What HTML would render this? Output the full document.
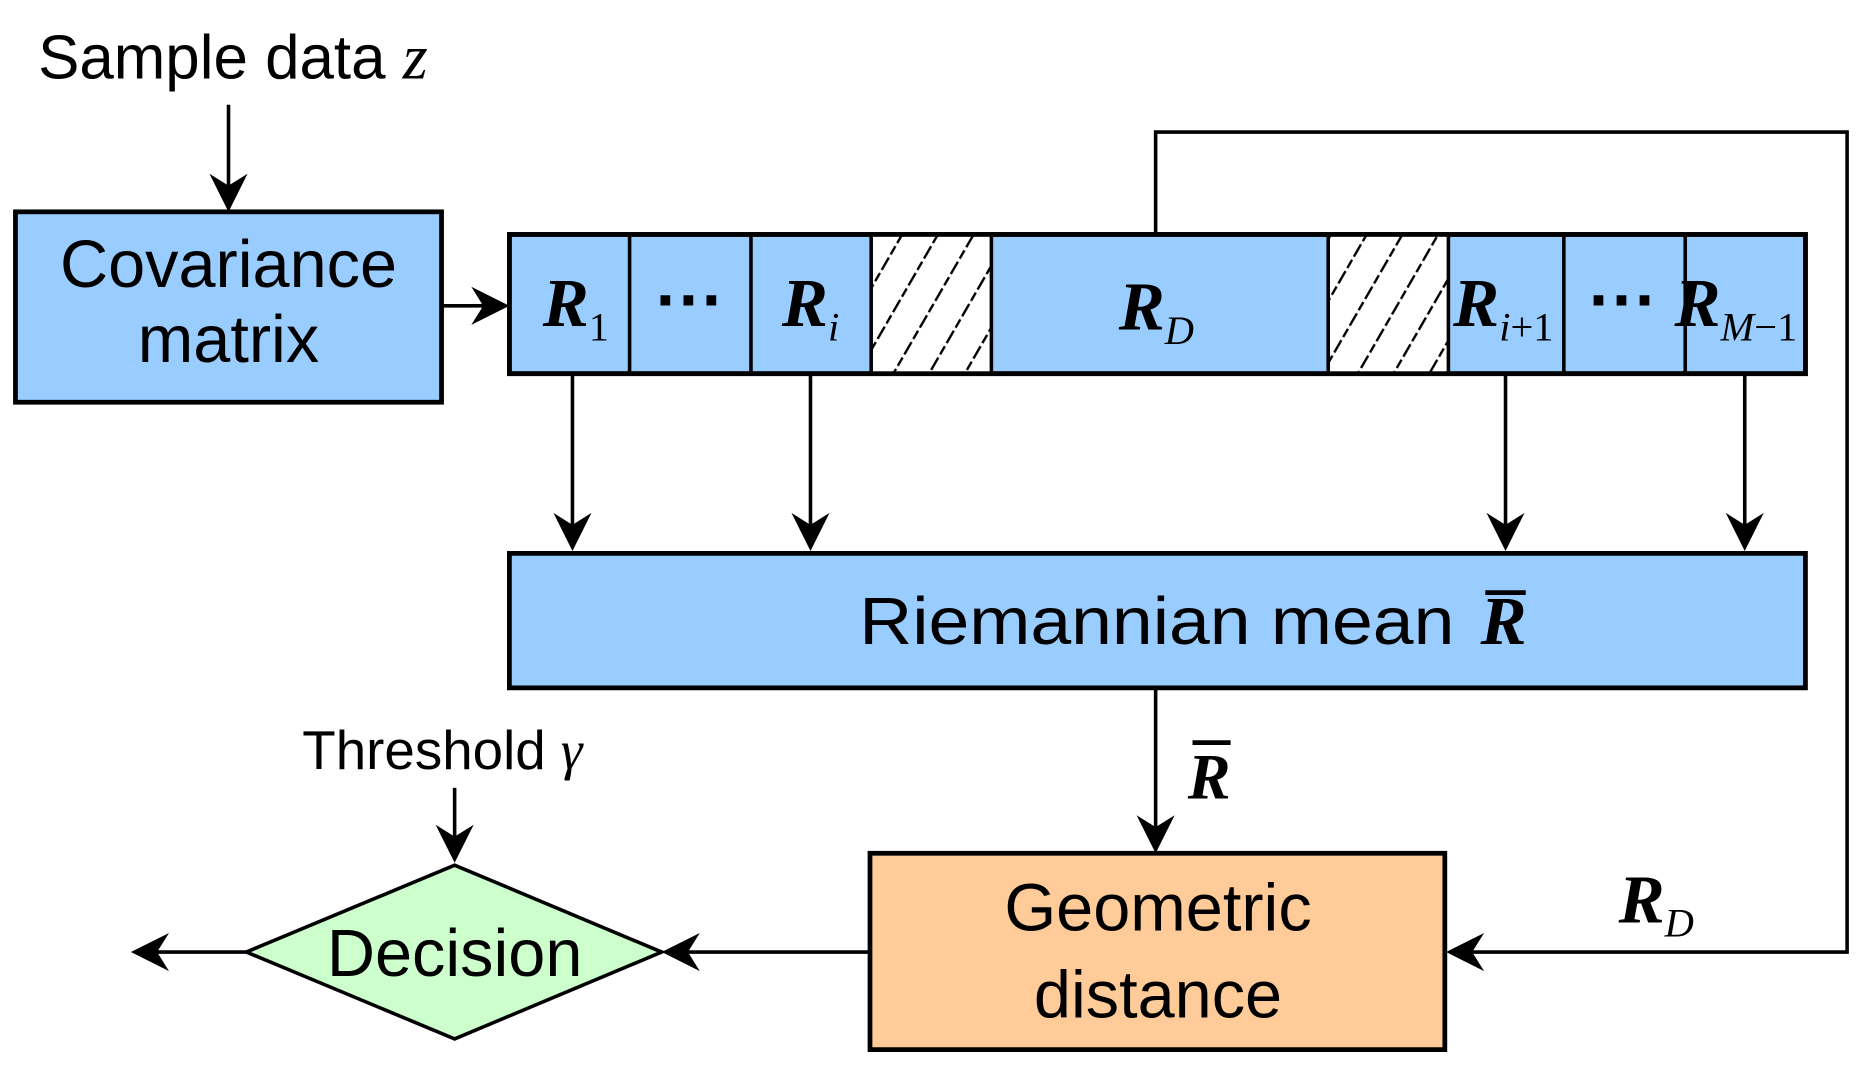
<!DOCTYPE html>
<html><head><meta charset="utf-8"><style>
html,body{margin:0;padding:0;background:#fff;}
svg{display:block;}
.s{font-family:"Liberation Sans",sans-serif;fill:#000;}
.r{font-family:"Liberation Serif",serif;font-style:italic;fill:#000;}
</style></head><body>
<svg width="1859" height="1077" viewBox="0 0 1562 905" preserveAspectRatio="none" xmlns="http://www.w3.org/2000/svg">
<defs>
<pattern id="h" patternUnits="userSpaceOnUse" width="26" height="26" patternTransform="rotate(30)">
<rect width="26" height="26" fill="#fff"/>
<line x1="0" y1="0" x2="0" y2="26" stroke="#000" stroke-width="4" stroke-dasharray="8 3"/>
</pattern>
</defs>
<g stroke="#000" stroke-width="3" fill="none">
<line x1="192" y1="88" x2="192" y2="160"/>
<line x1="371" y1="257" x2="412" y2="257"/>
<polyline points="971,197 971,111 1552,111 1552,800 1232,800"/>
<line x1="481" y1="314" x2="481" y2="446"/>
<line x1="681" y1="314" x2="681" y2="446"/>
<line x1="1265" y1="314" x2="1265" y2="446"/>
<line x1="1466" y1="314" x2="1466" y2="446"/>
<line x1="971" y1="578" x2="971" y2="700"/>
<line x1="731" y1="800" x2="572" y2="800"/>
<line x1="382" y1="662" x2="382" y2="708"/>
<line x1="207" y1="800" x2="126" y2="800"/>
</g>
<g fill="#000">
<path d="M192,178 L176,146 L192,156 L208,146 Z"/>
<path d="M428,257 L396,241 L406,257 L396,273 Z"/>
<path d="M481,463 L465,431 L481,441 L497,431 Z"/>
<path d="M681,463 L665,431 L681,441 L697,431 Z"/>
<path d="M1265,463 L1249,431 L1265,441 L1281,431 Z"/>
<path d="M1466,463 L1450,431 L1466,441 L1482,431 Z"/>
<path d="M971,717 L955,685 L971,695 L987,685 Z"/>
<path d="M382,725 L366,693 L382,703 L398,693 Z"/>
<path d="M1215,800 L1247,784 L1237,800 L1247,816 Z"/>
<path d="M556,800 L588,784 L578,800 L588,816 Z"/>
<path d="M110,800 L142,784 L132,800 L142,816 Z"/>
</g>
<rect x="13" y="178" width="358" height="160" fill="#99CCFF" stroke="#000" stroke-width="4"/>
<rect x="428" y="197" width="1089" height="117" fill="#99CCFF" stroke="#000" stroke-width="4"/>
<rect x="732" y="197" width="101" height="117" fill="url(#h)" stroke="#000" stroke-width="3"/>
<rect x="1116" y="197" width="101" height="117" fill="url(#h)" stroke="#000" stroke-width="3"/>
<g stroke="#000" stroke-width="3">
<line x1="529" y1="197" x2="529" y2="314"/><line x1="631" y1="197" x2="631" y2="314"/>
<line x1="1314" y1="197" x2="1314" y2="314"/><line x1="1416" y1="197" x2="1416" y2="314"/>
</g>
<rect x="428" y="197" width="1089" height="117" fill="none" stroke="#000" stroke-width="4"/>
<rect x="428" y="465" width="1089" height="113" fill="#99CCFF" stroke="#000" stroke-width="4"/>
<rect x="731" y="717" width="483" height="165" fill="#FFCC99" stroke="#000" stroke-width="4"/>
<polygon points="207,800 382,727 556,800 382,873" fill="#CCFFCC" stroke="#000" stroke-width="3"/>
<text class="s" x="32" y="66" font-size="52">Sample data <tspan class="r" font-size="54">z</tspan></text>
<text class="s" x="192" y="241" font-size="56" text-anchor="middle">Covariance</text>
<text class="s" x="192" y="304" font-size="56" text-anchor="middle">matrix</text>
<g class="r" font-weight="bold" font-size="58">
<text x="456" y="274">R<tspan font-weight="normal" font-style="normal" font-size="34" dy="12">1</tspan></text>
<text x="657" y="274">R<tspan font-weight="normal" font-size="34" dy="12">i</tspan></text>
<text x="940" y="277">R<tspan font-weight="normal" font-size="34" dy="12">D</tspan></text>
<text x="1221" y="274">R<tspan font-weight="normal" font-size="34" dy="12">i<tspan font-style="normal">+1</tspan></tspan></text>
<text x="1407" y="274">R<tspan font-weight="normal" font-size="34" dy="12">M<tspan font-style="normal">−1</tspan></tspan></text>
<text x="1360" y="775">R<tspan font-weight="normal" font-size="34" dy="12">D</tspan></text>
</g>
<text class="s" x="580" y="272" font-size="58" font-weight="bold" text-anchor="middle">···</text>
<text class="s" x="1364" y="272" font-size="58" font-weight="bold" text-anchor="middle">···</text>
<text class="s" x="722" y="541" font-size="56" textLength="500" lengthAdjust="spacingAndGlyphs">Riemannian mean</text>
<text class="r" x="1244" y="541" font-size="58" font-weight="bold">R</text>
<line x1="1248" y1="498" x2="1282" y2="498" stroke="#000" stroke-width="4"/>
<text class="r" x="998" y="671" font-size="54" font-weight="bold">R</text>
<line x1="1002" y1="624" x2="1034" y2="624" stroke="#000" stroke-width="4"/>
<text class="s" x="973" y="782" font-size="56" text-anchor="middle">Geometric</text>
<text class="s" x="973" y="855" font-size="56" text-anchor="middle">distance</text>
<text class="s" x="382" y="820" font-size="56" text-anchor="middle">Decision</text>
<text class="s" x="254" y="646" font-size="46">Threshold <tspan class="r">γ</tspan></text>
</svg>
</body></html>
